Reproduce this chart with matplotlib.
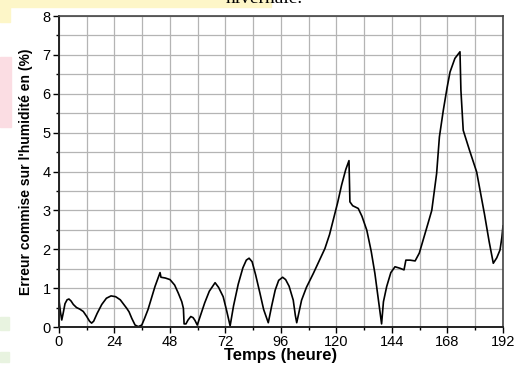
import matplotlib.pyplot as plt
from matplotlib.patches import Rectangle
from matplotlib.ticker import MultipleLocator

# Erreur sur l'humidité en fonction du temps (heures)
temps = [0, 0.6, 1.2, 1.8, 2.6, 3.5, 4.3, 5.2, 6.2, 7.6, 9.0, 10.5, 12.0, 13.2, 14.1, 15.0,
         16.5, 18.5, 20.5, 22.5, 24.5, 26.5, 28.0, 29.3, 30.3, 31.5, 32.9, 34.3, 35.8,
         37.0, 38.5, 40.0, 41.5, 42.8, 43.7, 44.1, 46.0, 48.0, 50.0, 51.6, 53.1, 53.8,
         54.1, 54.9, 55.8, 57.0, 58.0, 58.8, 59.8, 61.5, 63.0, 65.0, 67.5, 69.0, 71.0,
         72.5, 74.0, 75.5, 77.5, 79.5, 81.0, 82.2, 83.5, 85.0, 86.9, 88.5, 90.5, 92.0,
         93.5, 95.0, 96.7, 98.0, 99.5, 101.3, 102.2, 102.8, 103.5, 104.9, 107.0, 110.0,
         112.5, 115.0, 117.0, 118.6, 120.5, 122.2, 124.0, 125.4, 125.8, 127.0, 129.4,
         131.0, 133.1, 135.0, 136.6, 138.0, 139.5, 140.3, 141.7, 143.5, 145.3, 147.5,
         149.2, 150.0, 151.8, 154.0, 155.8, 157.5, 159.5, 161.2, 163.0, 163.3, 164.5,
         166.2, 167.8, 169.1, 171.2, 173.4, 173.8, 174.8, 177.5, 180.6, 184.0, 186.0,
         187.8, 189.3, 190.7, 191.5, 192.0]
erreur = [0.69, 0.40, 0.18, 0.35, 0.60, 0.70, 0.72, 0.67, 0.58, 0.50, 0.46, 0.40, 0.27, 0.15, 0.10, 0.15,
          0.35, 0.58, 0.74, 0.80, 0.78, 0.70, 0.58, 0.48, 0.39, 0.22, 0.05, 0.01, 0.05,
          0.22, 0.45, 0.75, 1.04, 1.25, 1.40, 1.28, 1.26, 1.22, 1.08, 0.87, 0.65, 0.48,
          0.08, 0.08, 0.18, 0.27, 0.24, 0.17, 0.05, 0.35, 0.62, 0.92, 1.14, 1.02, 0.78,
          0.42, 0.03, 0.55, 1.10, 1.52, 1.72, 1.77, 1.68, 1.35, 0.87, 0.45, 0.11, 0.55,
          0.95, 1.20, 1.28, 1.22, 1.05, 0.69, 0.30, 0.11, 0.30, 0.69, 1.02, 1.38,
          1.70, 2.02, 2.38, 2.75, 3.20, 3.65, 4.05, 4.28, 3.22, 3.12, 3.05,
          2.85, 2.49, 1.95, 1.38, 0.75, 0.08, 0.65, 1.04, 1.40, 1.55, 1.51,
          1.47, 1.72, 1.72, 1.70, 1.90, 2.24, 2.65, 3.00, 3.80, 3.95, 4.89,
          5.58, 6.15, 6.56, 6.91, 7.08, 6.09, 5.06, 4.55, 3.99, 2.90, 2.20,
          1.64, 1.78, 1.98, 2.30, 2.60]

xticks = [0, 24, 48, 72, 96, 120, 144, 168, 192]

fig = plt.figure(figsize=(5.22, 3.69), dpi=100)

# fond du document autour du graphique
fig.patches.append(Rectangle((0, 0.98), 0.52, 0.02, transform=fig.transFigure,
                             color='#fdf6c8', zorder=0))
fig.patches.append(Rectangle((0, 0.94), 0.02, 0.06, transform=fig.transFigure,
                             color='#fdf6c8', zorder=0))
fig.patches.append(Rectangle((0, 0.655), 0.022, 0.19, transform=fig.transFigure,
                             color='#fbdde3', zorder=0))
fig.patches.append(Rectangle((0, 0.105), 0.018, 0.035, transform=fig.transFigure,
                             color='#e8f3e0', zorder=0))
fig.patches.append(Rectangle((0, 0.02), 0.018, 0.025, transform=fig.transFigure,
                             color='#e8f3e0', zorder=0))
fig.text(0.507, 0.992, 'hivernale.', family='Liberation Serif', fontsize=14,
         ha='center', va='baseline')

ax = fig.add_axes([0.113, 0.1138, 0.8506, 0.8428])
ax.plot(temps, erreur, color='black', lw=1.2)

ax.set_xlim(0, 192)
ax.set_ylim(0, 8)
ax.set_xticks(xticks)
ax.xaxis.set_minor_locator(MultipleLocator(12))
ax.yaxis.set_major_locator(MultipleLocator(1))
ax.yaxis.set_minor_locator(MultipleLocator(0.5))
ax.grid(True, which='both', color='#b4b4b4', lw=0.9)
ax.set_axisbelow(True)
ax.tick_params(which='major', direction='out', length=4, width=1, labelsize=10.5, pad=2)
ax.tick_params(which='minor', direction='out', length=2.5, width=1)
for lab in ax.get_xticklabels() + ax.get_yticklabels():
    lab.set_family('Liberation Sans')
for s in ['left', 'bottom']:
    ax.spines[s].set_linewidth(1.4)
    ax.spines[s].set_color('#222222')
for s in ['top', 'right']:
    ax.spines[s].set_linewidth(1.2)
    ax.spines[s].set_color('#444444')

ax.set_xlabel('Temps (heure)', family='Liberation Sans', fontweight='bold',
              fontsize=12, labelpad=-1)
ax.set_ylabel("Erreur commise sur l'humidité en (%)", family='Liberation Sans',
              fontweight='bold', fontsize=10, labelpad=7)

fig.savefig('out.png', dpi=100)
